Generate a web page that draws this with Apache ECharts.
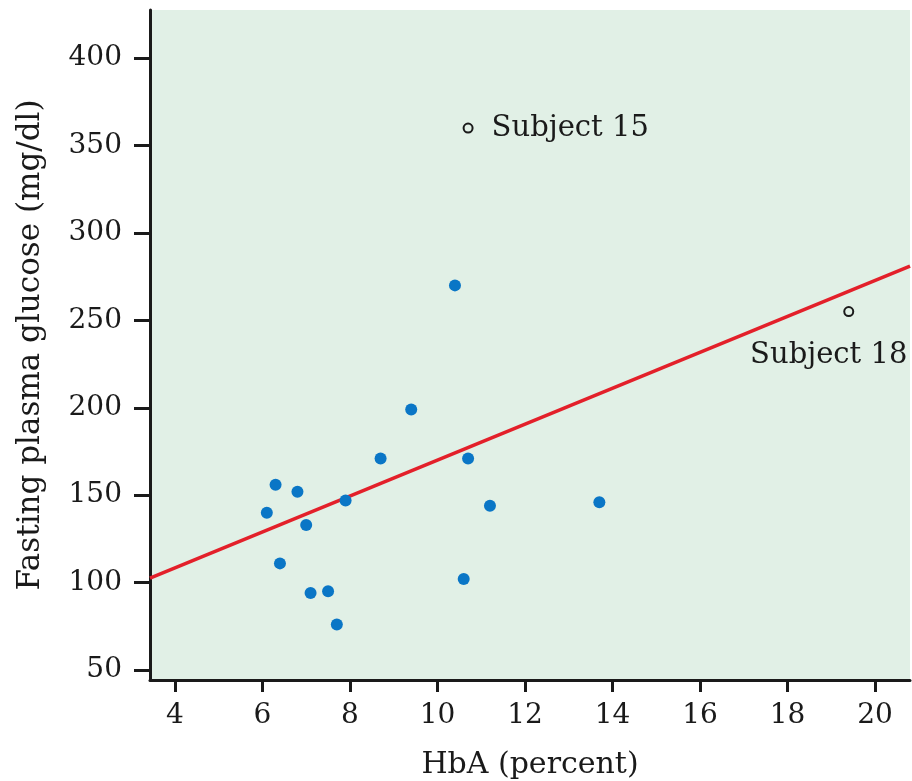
<!DOCTYPE html>
<html>
<head>
<meta charset="utf-8">
<script src="https://cdn.jsdelivr.net/npm/echarts@6/dist/echarts.min.js"></script>
<style>
  html, body { margin: 0; padding: 0; background: #fff; }
  #chart { width: 912px; height: 781px; }
</style>
</head>
<body>
<div id="chart"></div>
<script>
// HbA (%) vs fasting plasma glucose (mg/dl)
var hbaX = [6.1, 6.3, 6.4, 6.8, 7.0, 7.1, 7.5, 7.7, 7.9, 8.7, 9.4, 10.4, 10.6, 10.7, 11.2, 13.7];
var glucoseY = [140, 156, 111, 152, 133, 94, 95, 76, 147, 171, 199, 270, 102, 171, 144, 146];

// outlying subjects (open circles)
var outlierX = [10.7, 19.4];
var outlierY = [360, 255];
var outlierNames = ['Subject 15', 'Subject 18'];

// regression line end points
var fitX = [3.43, 20.8];
var fitY = [102.6, 281];

var xTicks = [4, 6, 8, 10, 12, 14, 16, 18, 20];
var yTicks = [50, 100, 150, 200, 250, 300, 350, 400];

var font = 'DejaVu Serif';
var chart = echarts.init(document.getElementById('chart'));

var points = hbaX.map(function (x, i) { return [x, glucoseY[i]]; });
var fitLine = fitX.map(function (x, i) { return [x, fitY[i]]; });
var outliers = outlierX.map(function (x, i) {
  var item = { name: outlierNames[i], value: [x, outlierY[i]] };
  if (i === 1) {
    item.label = { position: 'bottom', distance: 24, offset: [-20, 0] };
  }
  return item;
});

var option = {
  animation: false,
  grid: {
    left: 150, right: 2, top: 10, bottom: 101,
    outerBoundsMode: 'none',
    show: true, backgroundColor: '#e1f0e6', borderWidth: 0
  },
  xAxis: {
    type: 'value',
    min: fitX[0],
    max: fitX[1],
    name: 'HbA (percent)',
    nameLocation: 'middle',
    nameGap: 70,
    nameTextStyle: { fontFamily: font, fontSize: 30, color: '#1a1a1a' },
    axisLine: { show: true, onZero: false, lineStyle: { color: '#1a1a1a', width: 3 } },
    axisTick: { show: true, length: 12, customValues: xTicks, lineStyle: { color: '#1a1a1a', width: 3 } },
    axisLabel: { customValues: xTicks, margin: 22, fontFamily: font, fontSize: 28, color: '#1a1a1a' },
    splitLine: { show: false }
  },
  yAxis: {
    type: 'value',
    min: 44.3,
    max: 427.5,
    name: 'Fasting plasma glucose (mg/dl)',
    nameLocation: 'middle',
    nameGap: 104,
    nameTextStyle: { fontFamily: font, fontSize: 31, color: '#1a1a1a' },
    axisLine: { show: true, onZero: false, lineStyle: { color: '#1a1a1a', width: 3 } },
    axisTick: { show: true, length: 16, customValues: yTicks, lineStyle: { color: '#1a1a1a', width: 3 } },
    axisLabel: { customValues: yTicks, margin: 28, fontFamily: font, fontSize: 28, color: '#1a1a1a' },
    splitLine: { show: false }
  },
  series: [
    {
      type: 'line',
      data: fitLine,
      symbol: 'none',
      lineStyle: { color: '#e3202a', width: 3.5 },
      z: 2
    },
    {
      type: 'scatter',
      data: points,
      symbolSize: 12,
      itemStyle: { color: '#0a76c6', opacity: 1 },
      z: 3
    },
    {
      type: 'scatter',
      data: outliers,
      symbolSize: 9,
      itemStyle: { color: '#e1f0e6', borderColor: '#1a1a1a', borderWidth: 2, opacity: 1 },
      label: {
        show: true,
        position: 'right',
        distance: 18,
        formatter: '{b}',
        fontFamily: font,
        fontSize: 29,
        color: '#1a1a1a'
      },
      z: 3
    }
  ]
};
chart.setOption(option);
</script>
</body>
</html>
